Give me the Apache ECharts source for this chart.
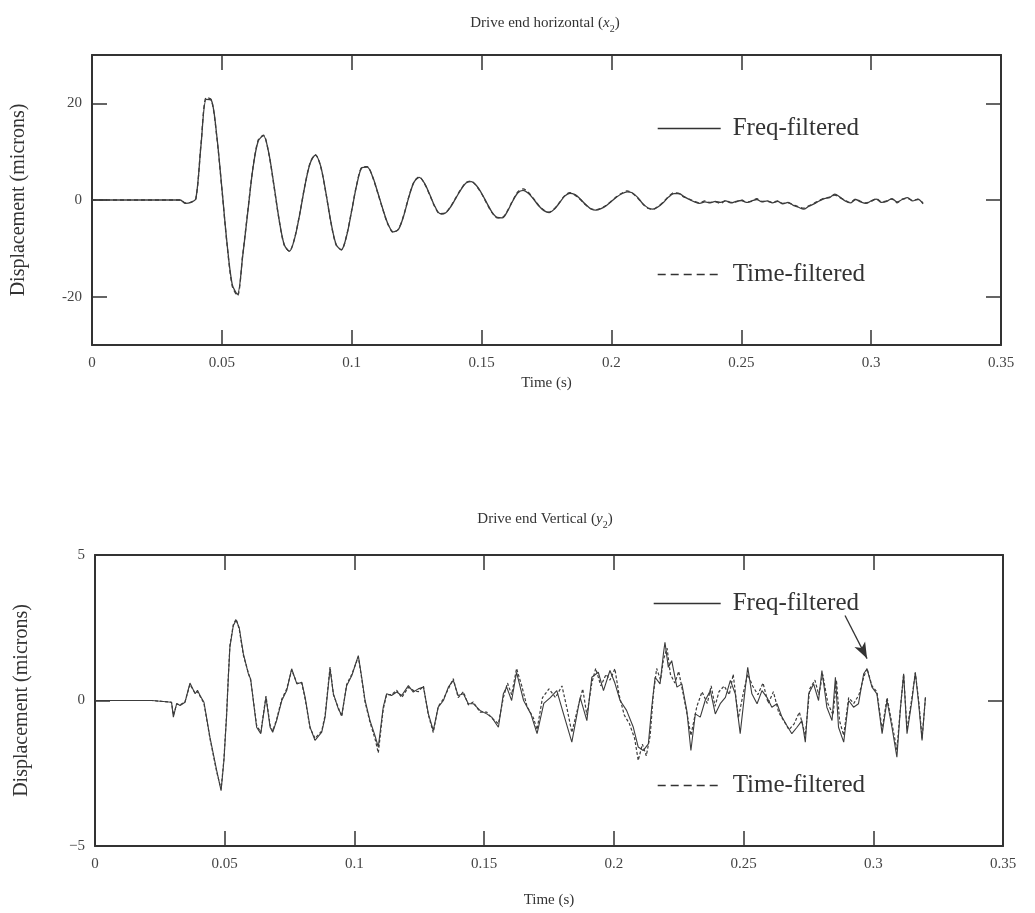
<!DOCTYPE html>
<html>
<head>
<meta charset="utf-8">
<title>Drive end displacement</title>
<script src="https://cdn.jsdelivr.net/npm/echarts@6/dist/echarts.min.js"></script>
<style>
  html, body { margin: 0; padding: 0; background: #ffffff; }
  #chart { width: 1035px; height: 913px; }
</style>
</head>
<body>
<div id="chart"></div>
<script>
// ---- Drive end horizontal (x2): samples every 2 ms from t = 0 to 0.32 s, microns ----
const horizStep = 0.002;
const horizFreq = [
  0, 0, 0, 0, 0, 0, 0, 0, 0, 0, 0, 0, 0, 0, 0, 0, 0,
  0, -0.7, -0.5, 0.3, 11.5, 20.8, 20.6, 13.5, 2.5, -9, -17.5, -19.5, -11.7,
  -2.4, 6.7, 12.2, 13.3, 9.9, 3.3, -3.9, -9.2, -10.6, -8.0,
  -2.9, 3.0, 7.6, 9.3, 7.1, 1.7, -4.6, -9.2, -10.3, -7.5,
  -2.2, 3.3, 6.7, 6.8, 4.9, 1.6, -1.9, -5.0, -6.6, -6.1,
  -3.3, 0.6, 3.7, 4.7, 3.5, 1.2, -1.3, -2.8, -2.7, -1.5,
  0.3, 2.1, 3.5, 3.8, 3.0, 1.4, -0.6, -2.5, -3.6, -3.7,
  -2.3, -0.2, 1.5, 2.0, 1.4, 0.2, -1.2, -2.2, -2.6, -1.9,
  -0.6, 0.8, 1.4, 1.1, 0.2, -0.9, -1.8, -2.1, -1.8, -1.2,
  -0.3, 0.6, 1.3, 1.7, 1.5, 0.6, -0.7, -1.6, -1.9, -1.4,
  -0.5, 0.6, 1.3, 1.35, 0.7, 0.1, -0.4, -0.7, -0.4, -0.6,
  -0.3, -0.5, -0.2, -0.6, -0.3, -0.1, -0.5, -0.2, 0.1, -0.4,
  -0.2, -0.6, -0.3, -0.8, -0.5, -1.1, -1.5, -1.9, -1.3, -0.8,
  -0.2, 0.3, 0.5, 1.2, 0.6, -0.2, -0.6, 0.1, -0.4, -0.7,
  -0.2, 0.2, -0.5, -0.3, 0.3, -0.4, 0.1, 0.5, -0.2, 0.2,
  -0.8
];
const horizTime = [
  0, 0, 0, 0, 0, 0, 0, 0, 0, 0, 0, 0, 0, 0, 0, 0, 0,
  0, -0.6, -0.5, 0.3, 11.8, 21.2, 20.7, 13.3, 2.3, -9.2, -17.8, -19.8, -11.5,
  -2.2, 6.8, 12.4, 13.4, 9.8, 3.1, -4.0, -9.3, -10.6, -7.9,
  -2.8, 3.1, 7.7, 9.4, 7.0, 1.6, -4.7, -9.3, -10.3, -7.4,
  -2.1, 3.4, 6.8, 6.9, 4.8, 1.5, -2.0, -5.1, -6.7, -6.0,
  -3.2, 0.7, 3.8, 4.8, 3.4, 1.1, -1.4, -2.9, -2.7, -1.4,
  0.4, 2.2, 3.6, 3.9, 2.9, 1.3, -0.7, -2.6, -3.7, -3.6,
  -2.2, -0.1, 1.7, 2.3, 1.6, 0.3, -1.1, -2.1, -2.5, -1.8,
  -0.5, 0.9, 1.5, 1.0, 0.1, -1.0, -1.8, -2.0, -1.7, -1.1,
  -0.2, 0.7, 1.4, 1.9, 1.4, 0.5, -0.8, -1.7, -1.9, -1.3,
  -0.4, 0.7, 1.5, 1.3, 0.6, 0.2, -0.3, -0.6, -0.2, -0.5,
  -0.4, -0.7, -0.1, -0.5, -0.4, 0, -0.4, -0.3, 0.3, -0.3,
  -0.3, -0.5, -0.2, -0.7, -0.6, -1.0, -1.4, -1.7, -1.2, -0.7,
  -0.1, 0.4, 0.6, 1.0, 0.5, -0.1, -0.5, 0.2, -0.3, -0.6,
  -0.3, 0.3, -0.4, -0.2, 0.2, -0.6, 0.2, 0.3, -0.1, 0.1,
  -0.6
];

// ---- Drive end vertical (y2): [time (s), displacement (microns)] ----
const vertFreq = [
  [0, 0], [0.022, 0], [0.0225, -0.06], [0.0295, -0.06], [0.0302, -0.57], [0.0315, -0.1],
  [0.0328, -0.17], [0.0347, -0.06], [0.0366, 0.6], [0.0386, 0.23], [0.0395, 0.35], [0.0405, 0.17],
  [0.042, -0.06], [0.0443, -1.26], [0.0469, -2.4], [0.0486, -3.1], [0.0497, -2.06], [0.0507, -0.57],
  [0.0514, 0.8], [0.052, 1.83], [0.0533, 2.57], [0.0544, 2.77], [0.0556, 2.5], [0.0572, 1.6],
  [0.0591, 0.92], [0.06, 0.74], [0.0623, -0.92], [0.0639, -1.14], [0.0659, 0.11], [0.0675, -0.92],
  [0.0685, -1.09], [0.07, -0.69], [0.072, 0], [0.0739, 0.34], [0.0758, 1.09], [0.0778, 0.57],
  [0.0797, 0.63], [0.081, 0.11], [0.0829, -0.92], [0.0848, -1.37], [0.0874, -1.09], [0.0887, -0.57],
  [0.0906, 1.09], [0.0919, 0.23], [0.0938, -0.29], [0.0951, -0.51], [0.097, 0.51], [0.099, 0.86],
  [0.1015, 1.54], [0.1028, 0.8], [0.1041, 0], [0.106, -0.69], [0.1079, -1.2], [0.1092, -1.6],
  [0.1111, -0.23], [0.1124, 0.23], [0.1143, 0.17], [0.1163, 0.29], [0.1182, 0.17], [0.1208, 0.51],
  [0.1227, 0.29], [0.1246, 0.4], [0.1266, 0.46], [0.1285, -0.46], [0.1304, -1.03], [0.1323, -0.23],
  [0.1343, 0], [0.1362, 0.46], [0.1381, 0.69], [0.14, 0.17], [0.142, 0.23], [0.1439, -0.11],
  [0.1458, -0.11], [0.1484, -0.34], [0.151, -0.46], [0.1529, -0.57], [0.1555, -0.92], [0.1574, 0.23],
  [0.1587, 0.46], [0.1606, 0], [0.1625, 0.97], [0.1652, 0], [0.168, -0.46], [0.1704, -1.14],
  [0.173, -0.1], [0.1755, 0.1], [0.178, 0.34], [0.1806, -0.46], [0.1838, -1.43], [0.187, 0.11],
  [0.1896, -0.69], [0.1915, 0.8], [0.194, 0.97], [0.196, 0.34], [0.1985, 1.03], [0.2004, 0.6],
  [0.2024, 0], [0.2049, -0.34], [0.2075, -0.92], [0.2094, -1.6], [0.2113, -1.72], [0.2133, -1.49],
  [0.2146, -0.23], [0.2159, 0.8], [0.2178, 0.57], [0.2191, 1.6], [0.2197, 2.0], [0.221, 1.14],
  [0.2223, 1.37], [0.2243, 0.46], [0.2262, 0.57], [0.2281, -0.34], [0.2297, -1.72], [0.2314, -0.46],
  [0.2333, -0.57], [0.2352, 0], [0.2372, 0.34], [0.2391, -0.46], [0.241, -0.11], [0.243, 0.11],
  [0.2449, 0.69], [0.2468, 0.23], [0.2487, -1.14], [0.2507, 0.46], [0.2516, 1.14], [0.2532, 0.23],
  [0.2552, -0.11], [0.2571, 0.34], [0.259, 0.11], [0.2609, -0.23], [0.2629, -0.11], [0.2648, -0.57],
  [0.2667, -0.86], [0.2686, -1.14], [0.2706, -0.92], [0.2725, -0.69], [0.2738, -1.43], [0.2751, 0.23],
  [0.277, 0.57], [0.2789, 0], [0.2802, 1.03], [0.2821, -0.23], [0.2841, -0.69], [0.2854, 0.8],
  [0.2866, -0.92], [0.2886, -1.43], [0.2905, 0], [0.2924, -0.23], [0.2943, -0.11], [0.2963, 0.92],
  [0.2976, 1.09], [0.2995, 0.46], [0.3014, 0.23], [0.3034, -1.14], [0.3053, 0], [0.3072, -0.92],
  [0.3091, -1.95], [0.3104, -0.34], [0.3117, 0.92], [0.313, -1.14], [0.3149, 0], [0.3162, 0.97],
  [0.3175, -0.11], [0.3188, -1.37], [0.3201, 0.11]
];
const vertTime = [
  [0, 0], [0.022, 0], [0.0225, -0.06], [0.0295, -0.06], [0.0302, -0.5], [0.0315, -0.12],
  [0.0328, -0.15], [0.0347, -0.04], [0.0366, 0.55], [0.0386, 0.25], [0.0395, 0.3], [0.0405, 0.15],
  [0.042, -0.1], [0.0443, -1.3], [0.0469, -2.45], [0.0486, -3.05], [0.0497, -2.0], [0.0507, -0.5],
  [0.0514, 0.85], [0.052, 1.9], [0.0533, 2.6], [0.0544, 2.8], [0.0556, 2.45], [0.0572, 1.55],
  [0.0591, 0.95], [0.06, 0.7], [0.0623, -0.85], [0.0639, -1.1], [0.0659, 0.15], [0.0675, -0.85],
  [0.0685, -1.05], [0.07, -0.65], [0.072, 0.05], [0.0739, 0.4], [0.0758, 1.05], [0.0778, 0.6],
  [0.0797, 0.6], [0.081, 0.05], [0.0829, -0.95], [0.0848, -1.3], [0.0874, -1.05], [0.0887, -0.5],
  [0.0906, 1.15], [0.0919, 0.2], [0.0938, -0.25], [0.0951, -0.55], [0.097, 0.55], [0.099, 0.9],
  [0.1015, 1.5], [0.1028, 0.75], [0.1041, -0.05], [0.106, -0.75], [0.1079, -1.3], [0.1092, -1.8],
  [0.1111, -0.3], [0.1124, 0.2], [0.1143, 0.2], [0.1163, 0.35], [0.1182, 0.1], [0.1208, 0.45],
  [0.1227, 0.35], [0.1246, 0.3], [0.1266, 0.5], [0.1285, -0.5], [0.1304, -1.1], [0.1323, -0.2],
  [0.1343, 0.05], [0.1362, 0.4], [0.1381, 0.75], [0.14, 0.1], [0.142, 0.3], [0.1439, -0.15],
  [0.1458, -0.05], [0.1484, -0.4], [0.151, -0.4], [0.1529, -0.6], [0.1555, -0.8], [0.1574, 0.1],
  [0.159, 0.6], [0.1606, 0.2], [0.1625, 1.1], [0.1645, 0.5], [0.1665, -0.2], [0.169, -0.6],
  [0.1704, -1.0], [0.1725, 0.1], [0.175, 0.4], [0.1775, 0.1], [0.18, 0.5], [0.182, -0.3],
  [0.1838, -1.1], [0.186, -0.3], [0.188, 0.4], [0.1896, -0.5], [0.1915, 0.6], [0.193, 1.1],
  [0.195, 0.5], [0.197, 0.9], [0.1985, 0.7], [0.2004, 1.09], [0.202, 0.2], [0.204, -0.5],
  [0.206, -0.8], [0.208, -1.3], [0.2094, -2.06], [0.211, -1.5], [0.2125, -1.9], [0.214, -1.2],
  [0.2152, 0.2], [0.2165, 1.1], [0.218, 0.7], [0.2191, 1.4], [0.2205, 1.8], [0.2218, 0.9],
  [0.2235, 0.6], [0.225, 1.0], [0.227, 0.1], [0.2285, -0.6], [0.2297, -1.2], [0.232, -0.2],
  [0.234, 0.3], [0.236, -0.1], [0.2375, 0.5], [0.239, -0.2], [0.2405, 0.3], [0.2425, 0.5],
  [0.2445, 0.2], [0.246, 0.9], [0.248, -0.6], [0.25, 0.3], [0.2516, 0.9], [0.2535, 0.5],
  [0.2555, 0.2], [0.2575, 0.6], [0.2595, -0.1], [0.2615, 0.3], [0.2635, -0.4], [0.2655, -0.7],
  [0.2675, -1.0], [0.2695, -0.8], [0.2715, -0.4], [0.2738, -1.2], [0.2755, 0.4], [0.2775, 0.7],
  [0.279, 0.2], [0.2805, 0.9], [0.2825, -0.1], [0.2845, -0.5], [0.2858, 0.7], [0.287, -0.7],
  [0.2886, -1.2], [0.2905, 0.1], [0.2925, -0.1], [0.2945, 0.2], [0.2963, 0.8], [0.2976, 1.1],
  [0.2995, 0.5], [0.3014, 0.3], [0.3034, -1.0], [0.3053, 0.1], [0.3072, -0.8], [0.3091, -1.7],
  [0.3104, -0.3], [0.3117, 0.9], [0.313, -1.0], [0.3149, 0.1], [0.3162, 0.95], [0.3175, 0],
  [0.3188, -1.3], [0.3201, 0.1]
];

// Arrow pointing from the upper legend entry to a peak of the freq-filtered trace: [t, microns]
const vertArrow = [[0.2891, 2.92], [0.2976, 1.44]];

// Axis ranges and labelled ticks
const timeRange = [0, 0.35];
const timeInterval = 0.05;
const horizRange = [-30, 30];
const horizLabels = [-20, 0, 20];
const vertRange = [-5, 5];
const vertLabels = [-5, 0, 5];
const vertTicks = [0];

const seriesNames = ['Freq-filtered', 'Time-filtered'];
const titles = [
  '{a|Drive end horizontal (}{i|x}{s|2}{a|)}',
  '{a|Drive end Vertical (}{i|y}{s|2}{a|)}'
];

const serif = '"Liberation Serif", "DejaVu Serif", serif';
const ink = '#333333';
const traceColor = '#3c3c3c';

const horizData = (vals) => vals.map((v, i) => [+(i * horizStep).toFixed(3), v]);

const titleRich = {
  a: { fontFamily: serif, fontSize: 15, fontWeight: 'normal', color: ink, lineHeight: 21 },
  i: { fontFamily: serif, fontSize: 15, fontWeight: 'normal', color: ink, fontStyle: 'italic', lineHeight: 21 },
  s: { fontFamily: serif, fontSize: 10, fontWeight: 'normal', color: ink, lineHeight: 10, verticalAlign: 'bottom' }
};

function timeAxis(gridIndex, pos, withLabels, nameGap) {
  return {
    type: 'value', gridIndex, position: pos,
    min: timeRange[0], max: timeRange[1], interval: timeInterval,
    name: withLabels ? 'Time (s)' : '',
    nameLocation: 'middle', nameGap,
    nameTextStyle: { fontFamily: serif, fontSize: 15, color: ink },
    axisLine: { show: true, onZero: false, lineStyle: { color: ink, width: 2 } },
    axisTick: { show: true, inside: true, length: 15, lineStyle: { color: ink, width: 1.5 } },
    axisLabel: {
      show: withLabels, fontFamily: serif, fontSize: 15, color: '#444', margin: 11,
      formatter: (v) => String(+v.toFixed(2))
    },
    splitLine: { show: false }
  };
}

function valueAxis(gridIndex, pos, range, labels, ticks, withLabels, fmt) {
  return {
    type: 'value', gridIndex, position: pos,
    min: range[0], max: range[1],
    name: withLabels ? 'Displacement (microns)' : '',
    nameLocation: 'middle', nameGap: 63, nameRotate: 90,
    nameTextStyle: { fontFamily: serif, fontSize: 20, color: ink },
    axisLine: { show: true, onZero: false, lineStyle: { color: ink, width: 2 } },
    axisTick: { show: true, inside: true, length: 15, customValues: ticks, lineStyle: { color: ink, width: 1.5 } },
    axisLabel: {
      show: withLabels, customValues: labels, fontFamily: serif, fontSize: 15, color: '#444', margin: 10,
      formatter: fmt
    },
    splitLine: { show: false }
  };
}

// One legend block per entry; the dashed entries get a longer dash than the traces
function legendFor(name, left, top, width, dash) {
  return {
    data: [name], left, top, orient: 'vertical', padding: 0,
    itemWidth: width, itemHeight: 14, selectedMode: false,
    itemStyle: { color: 'rgba(0,0,0,0)', borderColor: 'rgba(0,0,0,0)', borderWidth: 0, opacity: 0 },
    lineStyle: { color: ink, width: 1.4, type: dash || 'solid' },
    textStyle: { fontFamily: serif, fontSize: 25, color: ink, padding: [0, 0, 0, 7] }
  };
}

const option = {
  backgroundColor: '#ffffff',
  animation: false,
  title: [
    { text: titles[0], left: 540, top: 8, textAlign: 'center', textStyle: { fontWeight: 'normal', rich: titleRich } },
    { text: titles[1], left: 540, top: 504, textAlign: 'center', textStyle: { fontWeight: 'normal', rich: titleRich } }
  ],
  legend: [
    legendFor(seriesNames[0], 657, 116, 63),
    legendFor(seriesNames[1], 657, 262, 63, [8, 5]),
    legendFor(seriesNames[0], 653, 591, 67),
    legendFor(seriesNames[1], 657, 773, 63, [8, 5])
  ],
  grid: [
    { left: 92, top: 55, width: 909, height: 290 },
    { left: 95, top: 555, width: 908, height: 291 }
  ],
  xAxis: [
    timeAxis(0, 'bottom', true, 31),
    timeAxis(0, 'top', false, 0),
    timeAxis(1, 'bottom', true, 47),
    timeAxis(1, 'top', false, 0)
  ],
  yAxis: [
    valueAxis(0, 'left', horizRange, horizLabels, horizLabels, true, (v) => String(v)),
    valueAxis(0, 'right', horizRange, horizLabels, horizLabels, false),
    valueAxis(1, 'left', vertRange, vertLabels, vertTicks, true, (v) => (v < 0 ? '\u2212' + Math.abs(v) : String(v))),
    valueAxis(1, 'right', vertRange, vertLabels, vertTicks, false)
  ],
  series: [
    {
      name: seriesNames[0], type: 'line', xAxisIndex: 0, yAxisIndex: 0,
      data: horizData(horizFreq), showSymbol: false, symbol: 'none', smooth: 0.3,
      lineStyle: { color: traceColor, width: 1.3, type: 'solid' }, itemStyle: { color: traceColor }
    },
    {
      name: seriesNames[1], type: 'line', xAxisIndex: 0, yAxisIndex: 0,
      data: horizData(horizTime), showSymbol: false, symbol: 'none', smooth: 0.3,
      lineStyle: { color: traceColor, width: 1.3, type: [4, 3] }, itemStyle: { color: traceColor }
    },
    {
      name: seriesNames[0], type: 'line', xAxisIndex: 2, yAxisIndex: 2,
      data: vertFreq, showSymbol: false, symbol: 'none',
      lineStyle: { color: traceColor, width: 1.1, type: 'solid' }, itemStyle: { color: traceColor },
      markLine: {
        silent: true, symbol: ['none', 'arrow'], symbolSize: [9, 16],
        label: { show: false },
        lineStyle: { color: ink, width: 1.3, type: 'solid' },
        data: [[{ coord: vertArrow[0] }, { coord: vertArrow[1] }]]
      }
    },
    {
      name: seriesNames[1], type: 'line', xAxisIndex: 2, yAxisIndex: 2,
      data: vertTime, showSymbol: false, symbol: 'none',
      lineStyle: { color: traceColor, width: 1.2, type: [3, 2] }, itemStyle: { color: traceColor }
    }
  ]
};

const chart = echarts.init(document.getElementById('chart'), null, { renderer: 'canvas' });
chart.setOption(option);
</script>
</body>
</html>
